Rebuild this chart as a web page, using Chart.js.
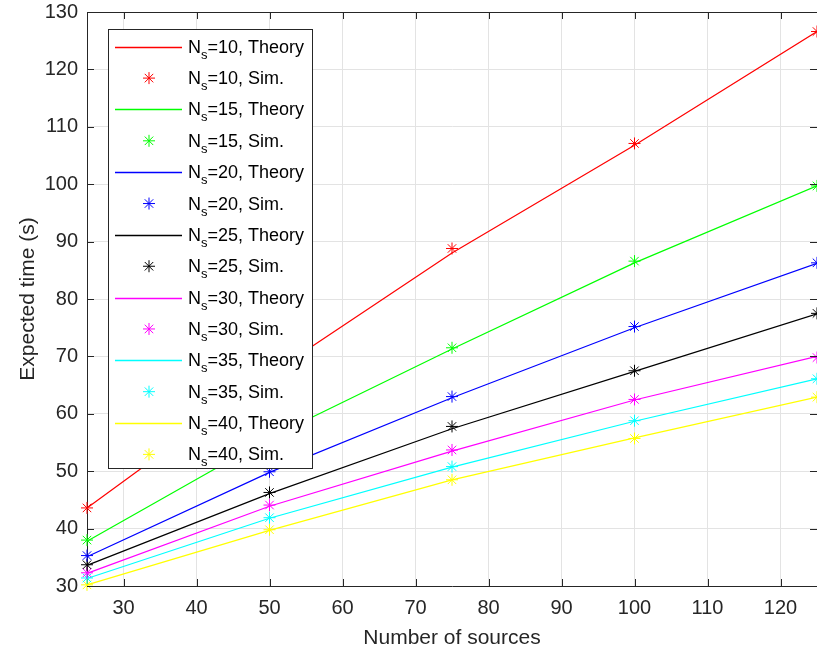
<!DOCTYPE html>
<html>
<head>
<meta charset="utf-8">
<script src="https://cdn.jsdelivr.net/npm/chart.js@4.4.1/dist/chart.umd.min.js"></script>
<style>
  html, body { margin: 0; padding: 0; background: #ffffff; }
  #wrap { position: relative; width: 817px; height: 659px; }
</style>
</head>
<body>
<div id="wrap"><canvas id="c" width="817" height="659"></canvas></div>
<script>
// ---- data ----
const sources = [25, 50, 75, 100, 125];
const nsValues = [10, 15, 20, 25, 30, 35, 40];
const xTickValues = [30, 40, 50, 60, 70, 80, 90, 100, 110, 120];

const theory10 = [43.6, 66.8, 88.0, 106.8, 126.6];
const theory15 = [37.8, 55.8, 71.3, 86.3, 99.7];
const theory20 = [35.1, 49.8, 62.8, 75.0, 86.2];
const theory25 = [33.6, 46.1, 57.4, 67.4, 77.4];
const theory30 = [32.2, 43.9, 53.5, 62.4, 70.0];
const theory35 = [31.3, 41.8, 50.7, 58.7, 66.1];
const theory40 = [30.2, 39.7, 48.5, 55.8, 62.9];

const sim10 = [43.6, 67.0, 88.8, 107.1, 126.6];
const sim15 = [38.0, 56.0, 71.5, 86.6, 99.7];
const sim20 = [35.3, 49.9, 63.0, 75.2, 86.3];
const sim25 = [33.7, 46.3, 57.8, 67.5, 77.5];
const sim30 = [32.3, 44.1, 53.7, 62.5, 69.8];
const sim35 = [31.4, 41.9, 50.8, 58.8, 66.1];
const sim40 = [30.2, 39.8, 48.5, 55.7, 62.9];

const seriesColors = ['#ff0000', '#00ff00', '#0000ff', '#000000', '#ff00ff', '#00ffff', '#ffff00'];
const theoryList = [theory10, theory15, theory20, theory25, theory30, theory35, theory40];
const simList = [sim10, sim15, sim20, sim25, sim30, sim35, sim40];

const xTitle = 'Number of sources';
const yTitle = 'Expected time (s)';

// ---- datasets ----
const datasets = [];
nsValues.forEach((ns, i) => {
  datasets.push({
    label: 'N_s=' + ns + ', Theory',
    kind: 'theory', ns: ns,
    data: sources.map((x, j) => ({ x: x, y: theoryList[i][j] })),
    borderColor: seriesColors[i],
    backgroundColor: seriesColors[i],
    borderWidth: 1.2,
    pointRadius: 0,
    showLine: true,
    fill: false,
    tension: 0,
    clip: false
  });
  datasets.push({
    label: 'N_s=' + ns + ', Sim.',
    kind: 'sim', ns: ns,
    data: sources.map((x, j) => ({ x: x, y: simList[i][j] })),
    borderColor: seriesColors[i],
    backgroundColor: seriesColors[i],
    pointStyle: 'star',
    pointRadius: 6,
    pointBorderWidth: 1,
    showLine: false,
    clip: false
  });
});

const AXIS = '#262626';
const GRID = '#e3e3e3';
const FONT = '"Liberation Sans", Arial, Helvetica, sans-serif';

// inward ticks + box
const boxPlugin = {
  id: 'boxPlugin',
  afterDraw(chart) {
    const ctx = chart.ctx, a = chart.chartArea;
    const xs = chart.scales.x, ys = chart.scales.y;
    ctx.save();
    ctx.strokeStyle = AXIS;
    ctx.lineWidth = 1;
    ctx.beginPath();
    ctx.moveTo(a.left, a.top + 0.5); ctx.lineTo(a.right, a.top + 0.5);
    xs.ticks.forEach(t => {
      const px = Math.round(xs.getPixelForValue(t.value)) + 0.5;
      ctx.moveTo(px, a.bottom); ctx.lineTo(px, a.bottom - 7);
      ctx.moveTo(px, a.top); ctx.lineTo(px, a.top + 7);
    });
    ys.ticks.forEach(t => {
      const py = Math.round(ys.getPixelForValue(t.value)) + 0.5;
      ctx.moveTo(a.left, py); ctx.lineTo(a.left + 7, py);
      ctx.moveTo(a.right, py); ctx.lineTo(a.right - 7, py);
    });
    ctx.stroke();
    ctx.restore();
  }
};

// legend drawn inside the axes
const legendPlugin = {
  id: 'insideLegend',
  afterDraw(chart) {
    const ctx = chart.ctx;
    const bx = 108.5, by = 29.5, bw = 204, bh = 439;
    ctx.save();
    ctx.fillStyle = '#ffffff';
    ctx.fillRect(bx, by, bw, bh);
    ctx.strokeStyle = AXIS;
    ctx.lineWidth = 1;
    ctx.strokeRect(bx, by, bw, bh);
    const step = bh / 14;
    chart.data.datasets.forEach((ds, i) => {
      const cy = by + step * (i + 0.55);
      ctx.strokeStyle = ds.borderColor;
      if (ds.kind === 'theory') {
        ctx.lineWidth = 1.6;
        ctx.beginPath();
        ctx.moveTo(115, Math.round(cy) + 0.5);
        ctx.lineTo(182, Math.round(cy) + 0.5);
        ctx.stroke();
      } else {
        ctx.lineWidth = 1;
        const r = 6, sx = 149, sy = cy;
        ctx.beginPath();
        for (let k = 0; k < 4; k++) {
          const ang = k * Math.PI / 4;
          ctx.moveTo(sx - r * Math.cos(ang), sy - r * Math.sin(ang));
          ctx.lineTo(sx + r * Math.cos(ang), sy + r * Math.sin(ang));
        }
        ctx.stroke();
      }
      // text: N, subscript s, rest
      const rest = ds.label.replace('N_s', '');
      ctx.fillStyle = '#000000';
      ctx.textBaseline = 'alphabetic';
      ctx.textAlign = 'left';
      const base = cy + 6;
      ctx.font = '18px ' + FONT;
      ctx.fillText('N', 188, base);
      const wN = ctx.measureText('N').width;
      ctx.font = '13px ' + FONT;
      ctx.fillText('s', 188 + wN, base + 6);
      const wS = ctx.measureText('s').width;
      ctx.font = '18px ' + FONT;
      ctx.fillText(rest, 188 + wN + wS, base);
    });
    ctx.restore();
  }
};

new Chart(document.getElementById('c'), {
  type: 'scatter',
  data: { datasets: datasets },
  options: {
    responsive: false,
    animation: false,
    layout: { padding: 0, autoPadding: false },
    plugins: { legend: { display: false }, tooltip: { enabled: false } },
    scales: {
      x: {
        type: 'linear', min: 25, max: 125,
        afterBuildTicks(scale) { scale.ticks = xTickValues.map(v => ({ value: v })); },
        afterFit(scale) { scale.height = 73; scale.paddingLeft = 0; scale.paddingRight = 0; },
        grid: { color: GRID, lineWidth: 1, drawTicks: false },
        border: { color: AXIS, width: 1 },
        ticks: { color: AXIS, font: { family: FONT, size: 20 }, padding: 10, maxRotation: 0, autoSkip: false },
        title: { display: true, text: xTitle, color: AXIS, font: { family: FONT, size: 21 }, padding: { top: 0, bottom: 8 } }
      },
      y: {
        type: 'linear', min: 30, max: 130,
        ticks: { stepSize: 10, color: AXIS, font: { family: FONT, size: 20 }, padding: 9 },
        afterFit(scale) { scale.width = 87; scale.paddingTop = 12; scale.paddingBottom = 0; },
        grid: { color: GRID, lineWidth: 1, drawTicks: false },
        border: { color: AXIS, width: 1 },
        title: { display: true, text: yTitle, color: AXIS, font: { family: FONT, size: 21 }, padding: { top: 16, bottom: 0 } }
      }
    }
  },
  plugins: [boxPlugin, legendPlugin]
});
</script>
</body>
</html>
